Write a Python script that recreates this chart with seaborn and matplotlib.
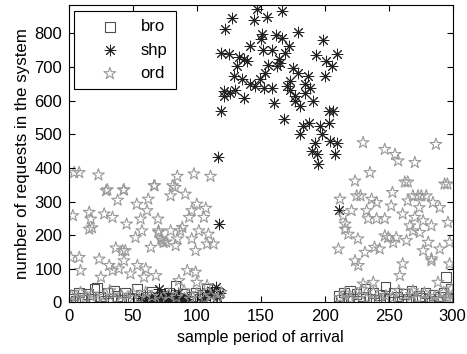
import pandas as pd
import matplotlib
matplotlib.use("Agg")
import matplotlib.pyplot as plt
import seaborn as sns

# shp (asterisks)
shp_x = [147, 166.5, 127.6, 144.5, 155, 122, 179.5, 151, 162, 166.5, 150, 198.5, 171.7, 141.3,
         152, 158.7, 118.5, 125, 169, 193.3, 210, 132.7, 136.6, 139.3, 164, 201, 156, 165,
         162.6, 131.5, 206, 175.6, 153.5, 179.5, 128.8, 135.4, 149.6, 187.3, 200.3, 173,
         141.8, 145.8, 184.7, 170.4, 152.2, 158.8, 188.6, 130.2, 173, 121, 126.3, 136.6, 121,
         177, 184.7, 177, 191.2, 160, 180.8, 118.5, 203, 206.8, 168.4, 188, 183.4, 196.4, 203,
         180.3, 197.7, 192.5, 204.2, 209.4, 190, 193.8, 208, 195, 116.4, 117, 211.4,
         56, 60, 64, 66, 68, 69, 70, 71, 72, 73, 74, 75, 76, 77, 78, 79, 80, 81, 82, 83,
         84, 85, 86, 87, 88, 89, 90, 91, 92, 70, 75, 80, 85, 72, 78, 104, 106, 108, 110,
         112, 114.6, 116, 118]
shp_y = [873, 865, 845, 840, 848, 814, 803, 799, 796, 786, 784, 779, 761, 761,
         751, 751, 742, 739, 742, 735, 739, 729, 725, 719, 725, 719, 707, 712,
         702, 702, 702, 697, 682, 682, 673, 663, 663, 673, 673, 658,
         648, 643, 650, 643, 636, 636, 636, 633, 633, 628, 623, 608, 613,
         613, 623, 598, 598, 593, 584, 569, 569, 569, 544, 534, 524, 524, 534,
         502, 500, 475, 480, 475, 450, 441, 442, 411, 433, 233, 275,
         12, 6, 15, 4, 10, 20, 8, 14, 3, 18, 6, 12, 2, 16, 9, 5, 13, 7, 18, 4,
         11, 6, 15, 3, 9, 5, 12, 7, 10, 40, 25, 22, 28, 2, 1, 10, 18, 30, 22,
         35, 45, 15, 28]

# ord (stars)
ord_x = [4, 8, 23, 29, 42.6, 38, 67, 62, 53, 3, 15.8, 17, 15.8, 18, 27.5, 34, 45, 56, 61, 69.6,
         52, 57, 70, 72, 64, 1.5, 8, 9, 23.6, 36.6, 41.8, 44, 43, 25, 31.4, 34, 39, 48, 53.5, 60,
         68, 58.7, 83, 79.5, 91, 84.7, 97.7, 110.7, 100, 96, 107, 94, 105.5, 70, 79.5, 87, 88.6,
         73, 74, 76, 84.7, 83.4, 96, 99, 108, 113, 101.6, 109, 92.5, 99, 86, 100, 108, 66.5, 81,
         30, 43,
         235.4, 223.7, 262.7, 265, 293.8, 296, 212, 225, 228, 236.7, 240.6, 253, 269, 273, 275.6,
         279.5, 265, 284.7, 290, 274, 252, 221, 214.6, 232.8, 234, 240.6, 247, 261, 270.5, 277,
         283.5, 296.4, 266.6, 269, 274.4, 216, 216, 218.5, 226, 247, 249.7, 256, 253.6, 239, 243,
         231.5, 210.7, 264, 281, 290, 277, 283.5, 283.5, 297.7, 297.7, 261, 223.7, 226.3, 258.8,
         230, 238, 269, 288.6, 287, 230, 247, 255, 257.5, 270.5,
         2, 5, 9, 13, 18, 22, 27, 32, 36, 41, 46, 50, 55, 60, 65, 72, 78, 84, 90, 95, 100, 106,
         111, 116, 119,
         212, 216, 220, 224, 229, 233, 238, 243, 248, 253, 258, 263, 268, 273, 278, 282, 286,
         290, 293, 296, 298, 300, 299]
ord_y = [386, 386, 379, 332, 334, 304, 347, 307, 292, 258, 268, 248, 218, 222, 263, 253, 233, 248,
         273, 248, 193, 213, 213, 189, 164, 134, 134, 95, 129, 162, 154, 154, 124, 75, 110, 95,
         100, 85, 110, 100, 80, 75, 342, 317, 322, 375, 382, 375, 292, 273, 280, 253, 253, 208,
         213, 213, 223, 184, 178, 180, 189, 169, 189, 154, 174, 174, 213, 203, 95, 90, 65, 60,
         50, 347, 347, 335, 335,
         386, 361, 358, 358, 352, 352, 307, 317, 317, 307, 297, 327, 317, 317, 317, 317, 302,
         297, 282, 282, 287, 273, 258, 273, 249, 249, 249, 263, 253, 243, 228, 238, 228, 213,
         208, 233, 218, 203, 189, 198, 193, 193, 178, 164, 159, 149, 159, 184, 179, 159, 154,
         130, 124, 179, 115, 115, 124, 110, 80, 55, 60, 35, 60, 470, 475, 455, 440, 421, 416,
         20, 8, 30, 14, 25, 5, 18, 35, 10, 22, 6, 28, 12, 30, 18, 8, 24, 15, 35, 10, 26, 12,
         20, 8, 30,
         15, 28, 10, 22, 38, 12, 30, 8, 20, 14, 35, 6, 24, 12, 28, 10, 18, 6, 30, 14, 8, 22, 40]

# bro (squares)
bro_x = [1, 3, 5, 8, 10, 12, 15, 17, 20, 22, 24, 27, 30, 33, 35, 38, 41, 44, 47, 50, 53, 56, 59,
         62, 65, 68, 71, 74, 78, 81, 83.4, 87, 90, 93, 96, 99, 102, 105, 108, 111, 114, 117,
         211, 213, 215, 218, 220, 222, 225, 227, 230, 232, 235, 238, 240, 243, 246, 247.6, 251,
         254, 257, 260, 262, 265, 268, 271, 274, 276, 279, 282, 285, 288, 290, 293, 296, 298,
         299, 295]
bro_y = [10, 22, 6, 30, 14, 8, 25, 12, 40, 45, 18, 5, 28, 12, 35, 20, 8, 30, 15, 10, 40, 22, 6,
         18, 32, 12, 8, 20, 28, 14, 50, 10, 25, 6, 18, 30, 12, 22, 40, 8, 15, 28,
         20, 8, 30, 15, 35, 10, 25, 5, 18, 40, 12, 28, 8, 22, 15, 47, 10, 30, 18, 6, 25, 12,
         35, 8, 20, 14, 28, 10, 22, 6, 18, 30, 12, 15, 40, 75]

plt.rcParams["font.family"] = ["Liberation Sans", "DejaVu Sans"]

fig = plt.figure(figsize=(4.67, 3.54), dpi=100)
ax = fig.add_axes([0.1478, 0.1455, 0.8212, 0.8412])

sns.scatterplot(x=bro_x, y=bro_y, ax=ax, marker="s", s=48, facecolor="none",
                edgecolor="#505050", linewidth=0.8, label="bro")
sns.scatterplot(x=shp_x, y=shp_y, ax=ax, marker=(8, 2, 0), s=60, color="#222222",
                edgecolor="#222222", linewidth=0.7, label="shp")
sns.scatterplot(x=ord_x, y=ord_y, ax=ax, marker="*", s=80, facecolor="none",
                edgecolor="#999999", linewidth=0.8, label="ord")

ax.set_xlim(0, 300)
ax.set_ylim(0, 885)
ax.set_xticks(range(0, 301, 50))
ax.set_yticks(range(0, 801, 100))
ax.tick_params(direction="in", top=True, right=True, labelsize=12, length=4, width=0.8)
ax.tick_params(axis="y", pad=5)
ax.tick_params(axis="x", pad=5)
for sp in ax.spines.values():
    sp.set_linewidth(0.8)

ax.set_xlabel("sample period of arrival", fontsize=11.5, labelpad=4)
ax.set_ylabel("number of requests in the system", fontsize=12.2, labelpad=3)

leg = ax.legend(loc="upper left", bbox_to_anchor=(0.013, 0.979), borderaxespad=0,
                fontsize=12, frameon=True, fancybox=False, edgecolor="black",
                framealpha=1, handletextpad=0.2, handlelength=3.3,
                borderpad=0.5, labelspacing=0.5)
leg.get_frame().set_linewidth(0.8)

fig.savefig("out.png", dpi=100)
